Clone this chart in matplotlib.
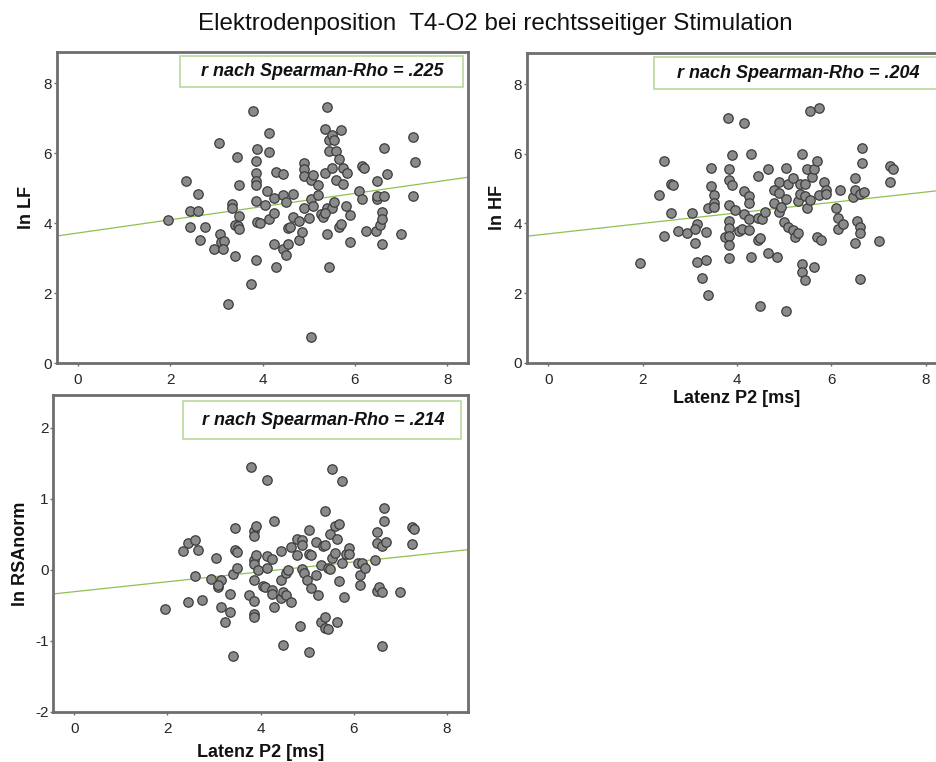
import matplotlib
matplotlib.use("Agg")
import matplotlib.pyplot as plt
from matplotlib.patches import Rectangle
import numpy as np

plt.rcParams['font.family'] = ['Liberation Sans', 'DejaVu Sans']
plt.rcParams['axes.unicode_minus'] = False

title = "Elektrodenposition  T4-O2 bei rechtsseitiger Stimulation"
x_label = "Latenz P2 [ms]"
y_labels = ["ln LF", "ln HF", "ln RSAnorm"]
rho_labels = ["r nach Spearman-Rho = .225", "r nach Spearman-Rho = .204", "r nach Spearman-Rho = .214"]
x_ticks = [0, 2, 4, 6, 8]
y_ticks_lf = [0, 2, 4, 6, 8]
y_ticks_rsa = [-2, -1, 0, 1, 2]

# Fit lines: intercept, slope
fit_lf = [3.72, 0.189]
fit_hf = [3.70, 0.150]
fit_rsa = [-0.31, 0.070]

x_lf = [1.95,2.35,2.44,2.44,2.60,2.61,2.65,2.75,2.95,3.05,3.09,3.11,3.16,3.15,3.25,3.35,3.35,3.40,3.40,3.45,
        3.49,3.49,3.46,3.49,3.75,3.80,3.85,3.85,3.85,3.85,3.85,3.85,3.89,3.89,3.95,4.05,4.10,4.14,4.14,4.14,
        4.24,4.24,4.25,4.29,4.29,4.45,4.45,4.45,4.50,4.50,4.55,4.55,4.60,4.65,4.65,4.80,4.80,4.85,4.90,4.90,
        4.90,4.90,5.00,5.06,5.06,5.06,5.10,5.10,5.21,5.21,5.26,5.30,5.35,5.35,5.40,5.40,5.40,5.45,5.45,5.45,
        5.50,5.50,5.50,5.55,5.55,5.60,5.60,5.65,5.65,5.70,5.70,5.75,5.75,5.80,5.84,5.89,5.89,6.10,6.15,6.15,
        6.20,6.25,6.45,6.49,6.49,6.49,6.54,6.59,6.59,6.59,6.64,6.64,6.69,7.00,7.25,7.25,7.30,5.35]
ln_lf = [4.10,5.20,4.36,3.89,4.83,4.36,3.52,3.89,3.27,6.31,3.69,3.45,3.50,3.27,1.68,4.54,4.45,3.07,3.95,5.90,
         5.08,4.21,3.93,3.83,2.27,7.20,5.77,5.43,5.21,5.08,4.64,2.94,6.12,4.03,4.01,4.51,4.91,6.58,6.05,4.13,
         4.72,3.41,4.29,5.46,2.75,5.41,4.80,3.27,4.60,3.09,3.85,3.41,3.88,4.83,4.17,4.05,3.52,3.76,5.72,5.55,
         5.36,4.43,4.15,0.75,4.69,5.24,5.39,4.50,5.08,4.81,4.27,4.19,6.70,5.43,7.34,3.69,4.45,6.39,6.06,2.76,
         6.53,5.58,4.45,6.39,4.60,5.24,6.06,5.84,3.88,6.66,3.97,5.58,5.13,4.48,5.43,4.24,3.46,4.91,5.63,4.70,
         5.58,3.79,3.79,5.20,4.69,4.79,3.94,4.32,4.12,3.41,6.15,4.79,5.41,3.69,6.47,4.79,5.76,4.30]

x_hf = [1.95,2.35,2.45,2.45,2.60,2.65,2.60,2.74,2.95,3.05,3.15,3.10,3.10,3.15,3.25,3.35,3.35,3.39,3.39,3.45,
        3.45,3.51,3.51,3.51,3.75,3.80,3.84,3.84,3.84,3.84,3.84,3.84,3.84,3.84,3.90,3.90,3.95,4.05,4.10,4.15,
        4.15,4.15,4.25,4.25,4.25,4.25,4.30,4.30,4.44,4.44,4.44,4.49,4.49,4.54,4.59,4.65,4.65,4.79,4.79,4.85,
        4.89,4.89,4.89,4.94,4.99,5.04,5.04,5.04,5.09,5.09,5.19,5.19,5.23,5.29,5.29,5.34,5.34,5.38,5.38,5.38,
        5.44,5.44,5.49,5.49,5.44,5.54,5.54,5.59,5.64,5.64,5.69,5.74,5.74,5.70,5.79,5.84,5.89,5.89,6.10,6.15,
        6.15,6.19,6.25,6.45,6.50,6.50,6.50,6.55,6.60,6.60,6.60,6.60,6.65,6.65,6.70,7.00,7.25,7.30,7.25]
ln_hf = [2.85,4.82,5.80,3.65,5.13,5.10,4.30,3.77,3.72,4.30,3.98,3.84,3.45,2.89,2.43,3.76,2.95,1.94,4.45,5.59,
         5.06,4.81,4.58,4.48,3.60,7.03,5.55,5.25,4.52,4.08,3.87,3.63,3.39,3.00,5.95,5.09,4.39,3.78,3.83,6.89,
         4.94,4.27,4.80,4.58,4.13,3.81,6.00,3.04,5.37,4.15,3.52,3.59,1.63,4.13,4.34,5.57,3.16,4.96,4.58,3.03,
         5.20,4.87,4.34,4.48,4.05,5.58,4.70,1.49,5.13,3.91,5.30,3.81,3.62,3.72,4.63,5.13,4.85,6.00,2.84,2.61,
         5.13,4.79,5.57,4.45,2.36,7.24,4.66,5.32,5.57,2.76,3.62,7.30,4.82,5.80,3.52,5.20,4.96,4.85,4.43,4.15,
         3.85,4.96,3.98,4.75,5.30,4.96,3.45,4.08,3.91,3.72,2.39,4.85,6.16,5.72,4.89,3.50,5.65,5.56,5.20]

x_rsa = [1.95,2.34,2.44,2.44,2.60,2.60,2.65,2.74,2.94,3.04,3.09,3.15,3.09,3.15,3.24,3.35,3.35,3.40,3.40,3.45,
         3.45,3.50,3.50,3.75,3.80,3.85,3.85,3.85,3.85,3.85,3.85,3.85,3.85,3.90,3.90,3.95,4.05,4.10,4.14,4.14,
         4.14,4.24,4.24,4.24,4.29,4.29,4.44,4.44,4.44,4.49,4.49,4.54,4.60,4.54,4.65,4.65,4.79,4.79,4.84,4.89,
         4.89,4.89,4.94,4.99,5.04,5.04,5.09,5.09,5.04,5.19,5.19,5.24,5.29,5.29,5.34,5.39,5.39,5.39,5.39,5.44,
         5.44,5.49,5.49,5.54,5.54,5.59,5.59,5.64,5.64,5.69,5.69,5.74,5.74,5.79,5.84,5.89,5.89,6.09,6.14,6.14,
         6.19,6.25,6.45,6.50,6.50,6.50,6.55,6.60,6.60,6.60,6.65,6.65,6.70,7.00,7.25,7.30,7.25]
ln_rsa = [-0.56,0.27,0.38,-0.46,0.42,-0.09,0.28,-0.43,-0.13,0.16,-0.24,-0.14,-0.21,-0.53,-0.74,-0.34,-0.60,-1.21,-0.06,0.59,
          0.28,0.25,0.02,-0.36,1.45,0.55,0.47,0.14,0.08,-0.15,-0.44,-0.63,-0.67,0.61,0.20,0.00,-0.23,-0.25,1.27,0.19,
          0.03,0.15,-0.28,-0.34,0.69,-0.52,0.27,-0.15,-0.40,-0.32,-1.06,-0.05,0.00,-0.36,-0.46,0.32,0.43,0.20,-0.80,0.42,
          0.35,0.01,-0.05,-0.14,0.56,0.22,0.21,-0.26,-1.16,0.39,-0.08,-0.36,0.07,-0.74,0.33,0.83,0.35,-0.66,-0.82,0.02,
          -0.83,0.50,0.01,1.42,0.17,0.61,0.24,0.43,-0.74,0.64,-0.16,1.25,0.09,-0.38,0.22,0.30,0.22,0.09,-0.08,-0.22,
          0.09,0.02,0.13,0.53,0.38,-0.30,-0.24,0.33,-0.32,-1.07,0.87,0.69,0.39,-0.32,0.60,0.57,0.36]

W, H = 937, 762
fig = plt.figure(figsize=(W / 100, H / 100), dpi=100)
fig.patch.set_facecolor('white')

def px_rect(left, top, right, bottom):
    return [left / W, 1 - bottom / H, (right - left) / W, (bottom - top) / H]

FRAME = '#6e6e6e'
LINE_G = '#8fc152'
BOX_G = '#b9d99b'

def panel(rect, xs, ys, fit, ylim, yticks, ylabel, rho, box, txt_x, ylab_x, xlab_y=None):
    ax = fig.add_axes(rect)
    ax.set_xlim(-0.45, 8.45)
    ax.set_ylim(*ylim)
    ax.set_xticks(x_ticks)
    ax.set_yticks(yticks)
    for s in ax.spines.values():
        s.set_color(FRAME)
        s.set_linewidth(2.0)
    ax.tick_params(axis='x', length=2.5, width=1, color=FRAME, pad=5, labelsize=11, labelcolor='#262626')
    ax.tick_params(axis='y', length=2.5, width=1, color=FRAME, pad=1, labelsize=11, labelcolor='#262626')
    ax.set_facecolor('white')
    xx = np.array(ax.get_xlim())
    ax.plot(xx, fit[0] + fit[1] * xx, color=LINE_G, lw=0.9, zorder=2)
    ax.scatter(xs, ys, s=46, facecolor='#8a8a8a', edgecolor='#3c3c3c', linewidth=0.9, zorder=3)
    ax.add_patch(Rectangle((box[0], box[1]), box[2] - box[0], box[3] - box[1], transform=ax.transAxes,
                           facecolor='white', edgecolor=BOX_G, linewidth=1.2, zorder=4, clip_on=False))
    ax.text(txt_x, (box[1] + box[3]) / 2, rho, transform=ax.transAxes, ha='center', va='center',
            fontsize=13, fontweight='bold', fontstyle='italic', color='#111111', zorder=5)
    ax.text(ylab_x, 0.5, ylabel, transform=ax.transAxes, rotation=90, ha='center', va='center',
            fontsize=13, fontweight='bold', color='#111111')
    if xlab_y is not None:
        ax.text(0.5, xlab_y, x_label, transform=ax.transAxes, ha='center', va='center',
                fontsize=13, fontweight='bold', color='#111111')
    return ax

# top-left
panel(px_rect(57, 52, 468, 363), x_lf, ln_lf, fit_lf, (0, 8.9), y_ticks_lf, y_labels[0], rho_labels[0],
      (0.299, 0.887, 0.988, 0.987), 0.646, -0.073)
# top-right (extends beyond figure edge)
panel(px_rect(527, 52.7, 947, 362.7), x_hf, ln_hf, fit_hf, (0, 8.9), y_ticks_lf, y_labels[1], rho_labels[1],
      (0.302, 0.882, 0.99, 0.985), 0.646, -0.071, xlab_y=-0.117)
# bottom-left (drawn last so it sits above top-left x labels)
panel(px_rect(53.3, 395, 467.7, 711.7), x_rsa, ln_rsa, fit_rsa, (-2, 2.46), y_ticks_rsa, y_labels[2], rho_labels[2],
      (0.314, 0.860, 0.985, 0.982), 0.652, -0.080, xlab_y=-0.129)

fig.text(495 / W, 1 - 24 / H, title, ha='center', va='center', fontsize=17.4, color='#111111')

fig.savefig('out.png', dpi=100, facecolor='white')
